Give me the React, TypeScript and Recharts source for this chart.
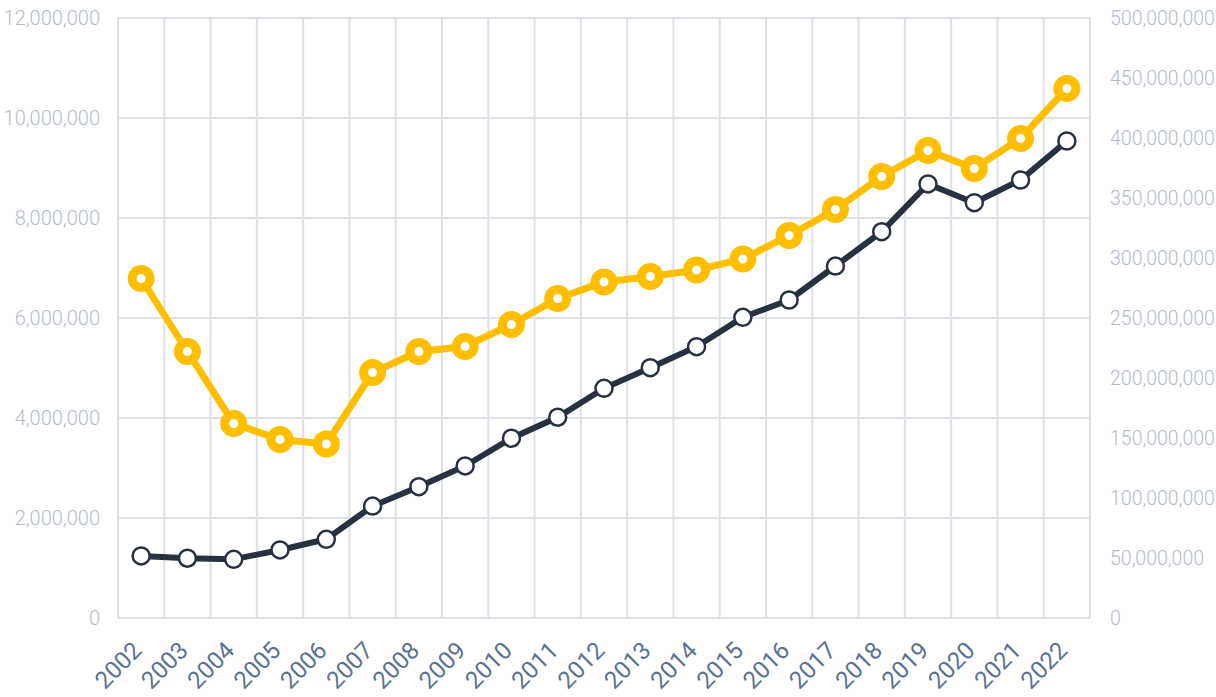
import { LineChart, Line, XAxis, YAxis, CartesianGrid } from "recharts";

const years = [
  "2002", "2003", "2004", "2005", "2006", "2007", "2008", "2009", "2010", "2011", "2012",
  "2013", "2014", "2015", "2016", "2017", "2018", "2019", "2020", "2021", "2022",
];

// left axis series
const yellowValues = [
  6790000, 5330000, 3890000, 3570000, 3480000, 4910000, 5330000, 5430000, 5870000, 6390000, 6720000,
  6830000, 6960000, 7180000, 7650000, 8170000, 8830000, 9350000, 8990000, 9590000, 10590000,
];

// right axis series
const darkValues = [
  51700000, 49800000, 48900000, 56700000, 65600000, 93300000, 109400000, 126700000, 149800000, 167300000, 191400000,
  208600000, 226100000, 250600000, 265000000, 293300000, 321900000, 361700000, 346100000, 365000000, 397500000,
];

const leftTicks = [0, 2000000, 4000000, 6000000, 8000000, 10000000, 12000000];
const rightTicks = [0, 50000000, 100000000, 150000000, 200000000, 250000000, 300000000, 350000000, 400000000, 450000000, 500000000];

const data = years.map((year, i) => ({
  idx: i,
  year,
  yellow: yellowValues[i],
  dark: darkValues[i],
}));

const yearTicks = years.map((_, i) => i);
const gridTicks = [...years.map((_, i) => i - 0.5), years.length - 0.5];

const fmt = (v: number) => v.toLocaleString("en-US");

const FONT = "Roboto, 'Noto Sans', sans-serif";
const yTickStyle = { fill: "#b3bbca", fontSize: 20, fontFamily: FONT, fontWeight: 300 };

function YearTick({ x, y, payload }: any) {
  const tx = x + 2;
  const ty = y + 34;
  return (
    <text
      x={tx}
      y={ty}
      transform={`rotate(-45 ${tx} ${ty})`}
      textAnchor="end"
      fill="#5b7191"
      fontSize={24}
      fontFamily={FONT}
    >
      {years[payload.value]}
    </text>
  );
}

export default function App() {
  return (
    <>
      <style>{`body{margin:0;}`}</style>
      <LineChart
        width={1216}
        height={697}
        data={data}
        margin={{ top: 18, right: 0, bottom: 0, left: 0 }}
      >
        <CartesianGrid
          xAxisId="grid"
          yAxisId="left"
          stroke="#dce1e8"
          strokeWidth={2}
        />
        <XAxis
          xAxisId="x"
          dataKey="idx"
          type="number"
          domain={[-0.5, years.length - 0.5]}
          ticks={yearTicks}
          interval={0}
          axisLine={false}
          tickLine={false}
          tickSize={0}
          tickMargin={0}
          height={79}
          tick={<YearTick />}
        />
        <XAxis
          xAxisId="grid"
          dataKey="idx"
          type="number"
          domain={[-0.5, years.length - 0.5]}
          ticks={gridTicks}
          height={0}
          hide
        />
        <YAxis
          yAxisId="left"
          domain={[0, 12000000]}
          ticks={leftTicks}
          tickFormatter={fmt}
          axisLine={false}
          tickLine={false}
          tickMargin={12}
          width={118}
          tick={yTickStyle}
        />
        <YAxis
          yAxisId="right"
          orientation="right"
          domain={[0, 500000000]}
          ticks={rightTicks}
          tickFormatter={fmt}
          axisLine={false}
          tickLine={false}
          tickMargin={14}
          width={126}
          tick={{ ...yTickStyle, fontSize: 19.5, textAnchor: "start" }}
        />
        <Line
          xAxisId="x"
          yAxisId="left"
          dataKey="yellow"
          stroke="#ffbf00"
          strokeWidth={7}
          dot={{ r: 9, fill: "#ffffff", stroke: "#ffbf00", strokeWidth: 9 }}
          activeDot={false}
          isAnimationActive={false}
        />
        <Line
          xAxisId="x"
          yAxisId="right"
          dataKey="dark"
          stroke="#27313f"
          strokeWidth={6}
          dot={{ r: 8.5, fill: "#ffffff", stroke: "#27313f", strokeWidth: 2.5 }}
          activeDot={false}
          isAnimationActive={false}
        />
      </LineChart>
    </>
  );
}
